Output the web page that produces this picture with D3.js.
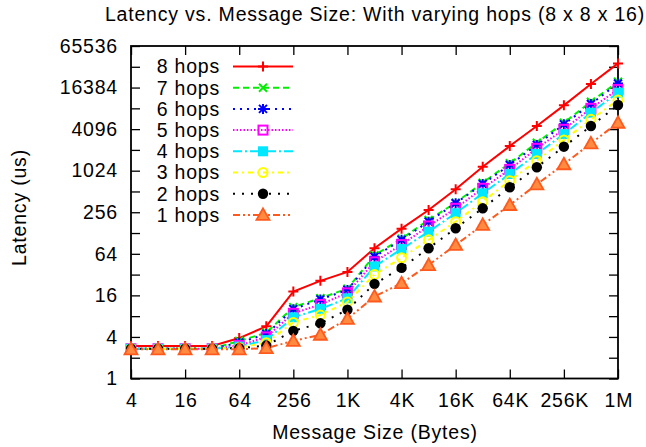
<!DOCTYPE html>
<html>
<head>
<meta charset="utf-8">
<script src="https://cdn.jsdelivr.net/npm/d3@7"></script>
<style>
  body { margin: 0; background: #fff; }
  text { font-family: "Liberation Sans", Arial, sans-serif; fill: #000; letter-spacing: 0.8px; }
</style>
</head>
<body>
<div id="chart"></div>
<script>
// message sizes in bytes
const sizes = [4, 8, 16, 32, 64, 128, 256, 512, 1024, 2048, 4096, 8192, 16384,
  32768, 65536, 131072, 262144, 524288, 1048576];

const hops8 = [2.95, 2.95, 2.95, 2.95, 3.85, 5.7, 18.2, 26, 35, 77, 148, 276, 550, 1170, 2330, 4540, 9050, 18400, 36700];
const hops7 = [2.7, 2.7, 2.7, 2.7, 3.5, 4.6, 10.8, 14.6, 20, 61, 106, 198, 352, 686, 1310, 2600, 5070, 10200, 19900];
const hops6 = [2.7, 2.7, 2.7, 2.7, 3.3, 4.4, 10.1, 14, 19.2, 58, 102, 187, 345, 657, 1240, 2420, 4800, 9460, 18800];
const hops5 = [2.7, 2.7, 2.7, 2.7, 3.0, 4.0, 8.8, 11.8, 17.4, 49, 87, 162, 292, 570, 1070, 2160, 4070, 8200, 15400];
const hops4 = [2.7, 2.7, 2.7, 2.7, 2.9, 3.6, 7.7, 10.2, 14.5, 42, 75, 134, 248, 481, 917, 1790, 3470, 7080, 13800];
const hops3 = [2.7, 2.7, 2.7, 2.7, 2.8, 3.3, 6.5, 8.3, 12.8, 32, 56, 102, 187, 364, 734, 1430, 2850, 5680, 10800];
const hops2 = [2.7, 2.7, 2.7, 2.7, 2.75, 3.0, 4.9, 6.3, 9.9, 23.5, 40, 77, 150, 292, 590, 1150, 2280, 4540, 9150];
const hops1 = [2.65, 2.65, 2.65, 2.65, 2.65, 2.75, 3.5, 4.3, 7.3, 15.4, 24, 44, 86, 168, 326, 650, 1270, 2550, 5070];

const seriesNames = ["8 hops", "7 hops", "6 hops", "5 hops", "4 hops", "3 hops", "2 hops", "1 hops"];
const seriesValues = [hops8, hops7, hops6, hops5, hops4, hops3, hops2, hops1];

const xTicks = [4, 16, 64, 256, 1024, 4096, 16384, 65536, 262144, 1048576];
const xTickLabels = ["4", "16", "64", "256", "1K", "4K", "16K", "64K", "256K", "1M"];
const yTicks = [1, 2, 4, 8, 16, 32, 64, 128, 256, 512, 1024, 2048, 4096, 8192, 16384, 32768, 65536];
const yTickLabels = ["1", "", "4", "", "16", "", "64", "", "256", "", "1024", "", "4096", "", "16384", "", "65536"];

// look of each series (gnuplot-ish)
const styles = [
  { color: "#ff0000", dash: null, marker: "plus" },
  { color: "#00ee00", dash: "6,4", marker: "cross" },
  { color: "#0000ff", dash: "2,5", marker: "star" },
  { color: "#ff00ff", dash: "1.5,2", marker: "boxOpen" },
  { color: "#00e8ff", dash: "9,3,2,3", marker: "boxFilled" },
  { color: "#ffff00", dash: "5,4,2,4", marker: "circleOpen" },
  { color: "#000000", dash: "2,7", marker: "circleFilled" },
  { color: "#ff5a1e", dash: "7,3,2,3,2,3", marker: "triangle" }
];

const fontSize = "19.5px";
const width = 646;
const height = 447;
const margin = { top: 46, right: 28, bottom: 68.5, left: 131 };

const svg = d3.select("#chart")
  .append("svg")
  .attr("width", width)
  .attr("height", height);

const x = d3.scaleLog().base(2)
  .domain([4, 1048576])
  .range([margin.left, width - margin.right]);

const y = d3.scaleLog().base(2)
  .domain([1, 65536])
  .range([height - margin.bottom, margin.top]);

// axes, ticks pointing inward
svg.append("g")
  .attr("transform", `translate(0,${height - margin.bottom})`)
  .call(d3.axisBottom(x).tickValues(xTicks).tickSize(-9).tickPadding(15)
    .tickFormat((d, i) => xTickLabels[i]))
  .call(g => g.select(".domain").remove())
  .selectAll("text").style("font-size", fontSize).attr("dx", "0.4px");

svg.append("g")
  .attr("transform", `translate(0,${margin.top})`)
  .call(d3.axisTop(x).tickValues(xTicks).tickSize(-9).tickFormat(""))
  .call(g => g.select(".domain").remove());

svg.append("g")
  .attr("transform", `translate(${margin.left},0)`)
  .call(d3.axisLeft(y).tickValues(yTicks).tickSize(-9).tickPadding(13)
    .tickFormat((d, i) => yTickLabels[i]))
  .call(g => g.select(".domain").remove())
  .selectAll("text").style("font-size", fontSize);

svg.append("g")
  .attr("transform", `translate(${width - margin.right},0)`)
  .call(d3.axisRight(y).tickValues(yTicks).tickSize(-9).tickFormat(""))
  .call(g => g.select(".domain").remove());

svg.selectAll(".tick line").attr("stroke", "#000").attr("stroke-width", 1.3);

// frame
svg.append("rect")
  .attr("x", margin.left)
  .attr("y", margin.top)
  .attr("width", width - margin.left - margin.right)
  .attr("height", height - margin.top - margin.bottom)
  .attr("fill", "none")
  .attr("stroke", "#000")
  .attr("stroke-width", 1.8);

function drawMarker(g, type, color, cx, cy) {
  const r = 5;
  if (type === "plus") {
    g.append("path").attr("d", `M${cx - r},${cy}H${cx + r}M${cx},${cy - r}V${cy + r}`)
      .attr("stroke", color).attr("stroke-width", 2).attr("fill", "none");
  } else if (type === "cross") {
    g.append("path").attr("d", `M${cx - 4},${cy - 4}L${cx + 4},${cy + 4}M${cx - 4},${cy + 4}L${cx + 4},${cy - 4}`)
      .attr("stroke", color).attr("stroke-width", 2).attr("fill", "none");
  } else if (type === "star") {
    g.append("path").attr("d", `M${cx - r},${cy}H${cx + r}M${cx},${cy - r}V${cy + r}M${cx - 4},${cy - 4}L${cx + 4},${cy + 4}M${cx - 4},${cy + 4}L${cx + 4},${cy - 4}`)
      .attr("stroke", color).attr("stroke-width", 2).attr("fill", "none");
  } else if (type === "boxOpen") {
    g.append("rect").attr("x", cx - 4.5).attr("y", cy - 4.5).attr("width", 9).attr("height", 9)
      .attr("stroke", color).attr("stroke-width", 2).attr("fill", "none");
  } else if (type === "boxFilled") {
    g.append("rect").attr("x", cx - 5).attr("y", cy - 5).attr("width", 10).attr("height", 10)
      .attr("fill", color);
  } else if (type === "circleOpen") {
    g.append("circle").attr("cx", cx).attr("cy", cy).attr("r", 4.5)
      .attr("stroke", color).attr("stroke-width", 2).attr("fill", "none");
  } else if (type === "circleFilled") {
    g.append("circle").attr("cx", cx).attr("cy", cy).attr("r", 5.2).attr("fill", color);
  } else if (type === "triangle") {
    g.append("path").attr("d", `M${cx},${cy - 6.5}L${cx + 6.5},${cy + 5}L${cx - 6.5},${cy + 5}Z`)
      .attr("stroke", color).attr("stroke-width", 1.8).attr("fill", "#ff8a40");
  }
}

const line = d3.line()
  .x((d, i) => x(sizes[i]))
  .y(d => y(d));

seriesValues.forEach((vals, k) => {
  const st = styles[k];
  const g = svg.append("g");
  g.append("path")
    .datum(vals)
    .attr("d", line)
    .attr("fill", "none")
    .attr("stroke", st.color)
    .attr("stroke-width", 2)
    .attr("stroke-dasharray", st.dash);
  vals.forEach((v, i) => drawMarker(g, st.marker, st.color, x(sizes[i]), y(v)));
});

// legend
const legend = svg.append("g");
seriesNames.forEach((name, k) => {
  const st = styles[k];
  const ly = 66.5 + k * 21.2;
  legend.append("text")
    .attr("x", 220)
    .attr("y", ly)
    .attr("dy", "0.35em")
    .attr("text-anchor", "end")
    .style("font-size", fontSize)
    .text(name);
  legend.append("line")
    .attr("x1", 233).attr("x2", 293)
    .attr("y1", ly).attr("y2", ly)
    .attr("stroke", st.color)
    .attr("stroke-width", 2)
    .attr("stroke-dasharray", st.dash);
  drawMarker(legend, st.marker, st.color, 263, ly);
});

// titles
svg.append("text")
  .attr("x", 375)
  .attr("y", 21)
  .attr("text-anchor", "middle")
  .style("font-size", fontSize)
  .text("Latency vs. Message Size: With varying hops (8 x 8 x 16)");

svg.append("text")
  .attr("x", 375)
  .attr("y", 439)
  .attr("text-anchor", "middle")
  .style("font-size", fontSize)
  .text("Message Size (Bytes)");

svg.append("text")
  .attr("transform", "translate(26,207.5) rotate(-90)")
  .attr("text-anchor", "middle")
  .style("font-size", fontSize)
  .text("Latency (us)");
</script>
</body>
</html>
